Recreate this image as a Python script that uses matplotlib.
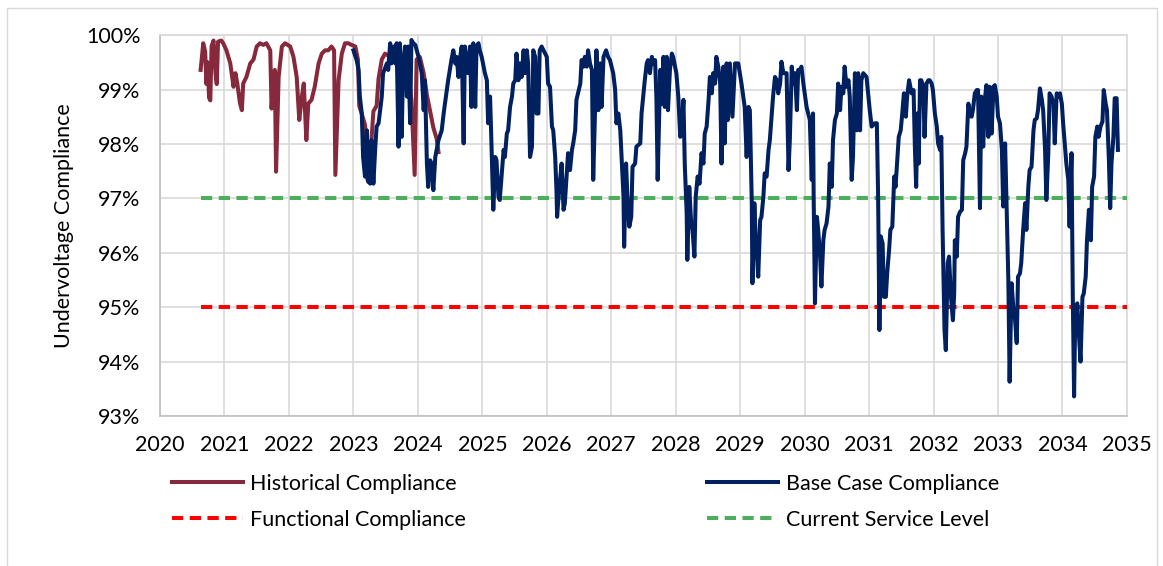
import matplotlib
matplotlib.use("Agg")
import matplotlib.pyplot as plt
from matplotlib.patches import Rectangle
from matplotlib.ticker import FuncFormatter

plt.rcParams['font.family'] = ['Lato', 'DejaVu Sans']

# historical weekly compliance (decimal year, %)
hist_t = [2020.63, 2020.65, 2020.67, 2020.70, 2020.72, 2020.74, 2020.76, 2020.78, 2020.80, 2020.83,
          2020.86, 2020.88, 2020.90, 2020.95, 2020.98, 2021.03, 2021.09, 2021.14, 2021.17, 2021.20,
          2021.24, 2021.27, 2021.29, 2021.34, 2021.40, 2021.45, 2021.50, 2021.55, 2021.60, 2021.65,
          2021.71, 2021.73, 2021.76, 2021.78, 2021.80, 2021.84, 2021.89, 2021.94, 2022.02, 2022.07,
          2022.12, 2022.16, 2022.20, 2022.23, 2022.27, 2022.30, 2022.35, 2022.40, 2022.46, 2022.51,
          2022.56, 2022.61, 2022.66, 2022.70, 2022.72, 2022.77, 2022.82, 2022.87, 2022.92, 2022.97,
          2023.03, 2023.07, 2023.09, 2023.13, 2023.18, 2023.21, 2023.23, 2023.27, 2023.31, 2023.36,
          2023.39, 2023.44, 2023.49, 2023.57, 2023.65, 2023.72, 2023.80, 2023.85, 2023.90, 2023.95,
          2023.98, 2024.03, 2024.09, 2024.14, 2024.19, 2024.24, 2024.29, 2024.32]
hist_v = [99.36, 99.60, 99.85, 99.70, 99.10, 99.50, 98.85, 98.80, 99.80, 99.90,
          99.30, 99.10, 99.88, 99.90, 99.85, 99.72, 99.48, 99.05, 99.30, 99.10,
          98.75, 98.62, 99.11, 99.23, 99.48, 99.55, 99.79, 99.85, 99.82, 99.85,
          99.72, 98.65, 99.17, 99.36, 97.49, 99.23, 99.79, 99.85, 99.79, 99.60,
          99.23, 98.44, 98.87, 99.11, 98.07, 98.74, 98.81, 99.05, 99.48, 99.66,
          99.72, 99.72, 99.79, 99.72, 97.43, 99.17, 99.66, 99.85, 99.85, 99.82,
          99.79, 99.55, 98.70, 98.55, 98.35, 97.90, 97.30, 97.90, 98.60, 98.70,
          99.20, 99.55, 99.66, 99.60, 99.55, 99.50, 99.60, 99.40, 98.80, 97.43,
          99.55, 99.60, 99.30, 98.90, 98.60, 98.30, 98.10, 97.85]

# base case forecast compliance (decimal year, %)
base_t = [2023.00, 2023.05, 2023.08, 2023.10, 2023.13, 2023.15, 2023.18, 2023.21, 2023.22, 2023.26,
          2023.28, 2023.31, 2023.34, 2023.36, 2023.39, 2023.44, 2023.46, 2023.52, 2023.54, 2023.57,
          2023.59, 2023.62, 2023.65, 2023.67, 2023.70, 2023.72, 2023.75, 2023.77, 2023.80, 2023.83,
          2023.85, 2023.88, 2023.90, 2023.93, 2023.96, 2024.01, 2024.06, 2024.09, 2024.11, 2024.14,
          2024.16, 2024.19, 2024.21, 2024.24, 2024.27, 2024.32, 2024.37, 2024.40, 2024.42, 2024.47,
          2024.52, 2024.55, 2024.58, 2024.60, 2024.63, 2024.65, 2024.68, 2024.71, 2024.73, 2024.78,
          2024.81, 2024.83, 2024.86, 2024.89, 2024.91, 2024.94, 2024.96, 2024.99, 2025.04, 2025.07,
          2025.09, 2025.12, 2025.14, 2025.17, 2025.20, 2025.22, 2025.25, 2025.27, 2025.33, 2025.35,
          2025.38, 2025.40, 2025.43, 2025.46, 2025.48, 2025.51, 2025.53, 2025.56, 2025.58, 2025.61,
          2025.64, 2025.66, 2025.69, 2025.71, 2025.74, 2025.77, 2025.79, 2025.82, 2025.84, 2025.87,
          2025.89, 2025.92, 2025.95, 2026.00, 2026.02, 2026.05, 2026.08, 2026.10, 2026.13, 2026.15,
          2026.16, 2026.19, 2026.23, 2026.26, 2026.28, 2026.31, 2026.33, 2026.36, 2026.39, 2026.41,
          2026.44, 2026.46, 2026.52, 2026.54, 2026.57, 2026.59, 2026.62, 2026.64, 2026.67, 2026.70,
          2026.72, 2026.75, 2026.77, 2026.80, 2026.83, 2026.85, 2026.88, 2026.92, 2026.95, 2026.98,
          2027.03, 2027.06, 2027.08, 2027.11, 2027.14, 2027.16, 2027.19, 2027.20, 2027.23, 2027.25,
          2027.28, 2027.31, 2027.33, 2027.37, 2027.39, 2027.45, 2027.47, 2027.50, 2027.52, 2027.55,
          2027.57, 2027.60, 2027.63, 2027.65, 2027.68, 2027.70, 2027.72, 2027.76, 2027.78, 2027.81,
          2027.83, 2027.86, 2027.88, 2027.91, 2027.94, 2027.96, 2027.99, 2028.01, 2028.04, 2028.07,
          2028.09, 2028.12, 2028.14, 2028.17, 2028.18, 2028.21, 2028.24, 2028.26, 2028.29, 2028.31,
          2028.34, 2028.37, 2028.40, 2028.43, 2028.45, 2028.48, 2028.51, 2028.53, 2028.56, 2028.58,
          2028.61, 2028.63, 2028.66, 2028.69, 2028.71, 2028.74, 2028.76, 2028.79, 2028.81, 2028.84,
          2028.88, 2028.92, 2028.97, 2029.02, 2029.07, 2029.10, 2029.13, 2029.15, 2029.18, 2029.19,
          2029.22, 2029.24, 2029.28, 2029.31, 2029.33, 2029.36, 2029.38, 2029.41, 2029.44, 2029.46,
          2029.49, 2029.51, 2029.54, 2029.57, 2029.59, 2029.62, 2029.64, 2029.67, 2029.70, 2029.72,
          2029.75, 2029.77, 2029.80, 2029.82, 2029.85, 2029.88, 2029.90, 2029.93, 2029.95, 2029.98,
          2030.03, 2030.08, 2030.11, 2030.13, 2030.14, 2030.16, 2030.19, 2030.21, 2030.24, 2030.26,
          2030.29, 2030.31, 2030.34, 2030.37, 2030.39, 2030.42, 2030.44, 2030.47, 2030.50, 2030.52,
          2030.55, 2030.57, 2030.60, 2030.62, 2030.65, 2030.68, 2030.70, 2030.73, 2030.75, 2030.78,
          2030.81, 2030.83, 2030.86, 2030.88, 2030.91, 2030.96, 2030.99, 2031.01, 2031.04, 2031.09,
          2031.12, 2031.14, 2031.16, 2031.18, 2031.21, 2031.23, 2031.26, 2031.28, 2031.31, 2031.33,
          2031.36, 2031.39, 2031.41, 2031.44, 2031.46, 2031.49, 2031.51, 2031.54, 2031.57, 2031.59,
          2031.62, 2031.63, 2031.66, 2031.69, 2031.71, 2031.73, 2031.75, 2031.77, 2031.79, 2031.81,
          2031.84, 2031.86, 2031.89, 2031.92, 2031.94, 2031.97, 2031.99, 2032.02, 2032.05, 2032.07,
          2032.10, 2032.12, 2032.14, 2032.17, 2032.19, 2032.22, 2032.24, 2032.27, 2032.30, 2032.32,
          2032.33, 2032.36, 2032.38, 2032.41, 2032.44, 2032.46, 2032.49, 2032.51, 2032.54, 2032.56,
          2032.59, 2032.61, 2032.64, 2032.67, 2032.69, 2032.72, 2032.74, 2032.77, 2032.80, 2032.82,
          2032.85, 2032.87, 2032.90, 2032.93, 2032.95, 2032.98, 2033.00, 2033.03, 2033.06, 2033.08,
          2033.11, 2033.13, 2033.16, 2033.18, 2033.21, 2033.24, 2033.26, 2033.29, 2033.31, 2033.34,
          2033.36, 2033.39, 2033.42, 2033.44, 2033.47, 2033.49, 2033.52, 2033.55, 2033.57, 2033.60,
          2033.62, 2033.65, 2033.68, 2033.70, 2033.73, 2033.75, 2033.78, 2033.80, 2033.83, 2033.86,
          2033.88, 2033.91, 2033.93, 2033.96, 2033.99, 2034.01, 2034.04, 2034.06, 2034.09, 2034.11,
          2034.14, 2034.16, 2034.18, 2034.20, 2034.23, 2034.25, 2034.28, 2034.31, 2034.33, 2034.36,
          2034.38, 2034.41, 2034.44, 2034.46, 2034.49, 2034.51, 2034.54, 2034.56, 2034.59, 2034.62,
          2034.64, 2034.67, 2034.69, 2034.72, 2034.74, 2034.76, 2034.79, 2034.81, 2034.84, 2034.86]
base_v = [99.72, 99.54, 99.36, 98.87, 98.56, 97.76, 97.40, 98.25, 97.34, 97.27,
          98.07, 97.27, 97.95, 98.32, 98.38, 98.87, 99.30, 99.48, 99.36, 99.85,
          99.48, 99.79, 99.48, 99.85, 97.95, 99.85, 98.13, 99.48, 99.79, 98.87,
          99.79, 98.38, 99.91, 99.85, 99.82, 99.60, 99.30, 98.62, 99.17, 97.64,
          97.21, 97.70, 97.64, 97.15, 97.76, 98.07, 98.25, 98.56, 98.74, 99.17,
          99.54, 99.72, 99.48, 99.60, 99.23, 99.54, 99.79, 98.01, 99.79, 99.30,
          99.79, 98.68, 99.85, 98.68, 99.79, 99.85, 99.72, 99.60, 99.30, 99.17,
          98.38, 98.87, 98.07, 96.79, 97.76, 97.70, 97.03, 96.97, 97.89, 97.76,
          98.19, 98.25, 98.68, 98.87, 99.11, 99.17, 99.66, 99.17, 99.48, 99.23,
          99.72, 99.30, 99.72, 99.48, 97.76, 97.95, 99.72, 99.60, 98.56, 98.56,
          99.72, 99.79, 99.72, 99.60, 99.11, 99.05, 98.32, 98.25, 97.76, 97.15,
          96.66, 97.15, 97.64, 96.79, 96.91, 97.46, 97.83, 97.52, 97.89, 98.01,
          98.25, 98.81, 99.11, 99.54, 99.42, 99.60, 99.42, 99.72, 99.48, 99.36,
          97.34, 98.68, 99.72, 98.62, 99.48, 98.68, 99.60, 99.72, 99.60, 99.54,
          99.30, 99.00, 98.38, 98.56, 98.25, 97.76, 97.03, 96.11, 97.64, 97.03,
          96.48, 96.66, 97.58, 97.64, 97.95, 98.01, 98.56, 98.93, 99.17, 99.48,
          99.54, 99.30, 99.60, 99.48, 99.54, 98.87, 97.34, 99.36, 98.74, 99.60,
          98.68, 99.60, 98.62, 99.36, 99.66, 99.60, 99.42, 99.30, 98.87, 98.13,
          98.19, 98.81, 97.64, 96.72, 95.87, 97.21, 96.54, 96.42, 95.93, 97.03,
          97.40, 97.27, 97.83, 97.64, 98.19, 98.32, 98.81, 99.23, 98.93, 99.30,
          99.11, 99.60, 99.42, 99.11, 97.64, 99.42, 98.01, 99.48, 98.44, 99.48,
          98.50, 99.48, 99.48, 99.11, 98.68, 97.76, 98.68, 98.62, 96.91, 95.44,
          96.91, 96.30, 95.56, 96.60, 96.66, 97.03, 97.46, 97.40, 97.89, 98.07,
          98.56, 98.87, 99.23, 99.17, 98.93, 99.11, 99.51, 99.30, 99.30, 99.30,
          97.52, 98.07, 99.42, 99.11, 99.30, 98.62, 99.36, 99.36, 99.42, 99.11,
          98.68, 98.44, 97.34, 98.56, 97.03, 95.07, 96.66, 96.42, 95.93, 95.38,
          96.23, 96.42, 96.54, 96.85, 97.64, 97.21, 98.07, 98.44, 98.56, 99.11,
          98.62, 99.05, 98.93, 99.42, 99.05, 99.17, 98.87, 97.34, 97.76, 99.30,
          98.25, 99.30, 98.25, 99.17, 99.30, 99.23, 98.87, 98.62, 98.32, 98.38,
          98.38, 97.03, 94.58, 96.30, 96.17, 95.19, 95.19, 95.62, 96.05, 96.42,
          96.48, 97.40, 97.21, 97.76, 98.13, 98.25, 98.50, 98.93, 98.50, 98.87,
          99.17, 99.11, 98.93, 98.99, 97.95, 97.21, 98.56, 97.64, 99.17, 99.17,
          99.05, 98.13, 99.11, 99.17, 99.17, 99.11, 98.99, 98.56, 98.32, 98.01,
          97.89, 98.13, 96.42, 94.58, 94.21, 95.81, 95.93, 95.19, 94.76, 95.25,
          96.23, 95.93, 96.66, 96.75, 96.79, 97.70, 97.83, 97.95, 98.74, 98.56,
          98.50, 98.62, 98.93, 98.99, 98.99, 96.82, 98.87, 97.95, 98.87, 99.08,
          98.13, 99.05, 98.19, 99.05, 99.08, 98.87, 98.50, 98.38, 97.89, 96.85,
          98.01, 97.03, 95.50, 93.63, 95.44, 94.95, 94.83, 94.34, 95.56, 95.62,
          95.81, 96.42, 96.91, 96.42, 97.21, 97.52, 97.58, 98.25, 98.44, 98.47,
          98.62, 99.02, 98.81, 98.62, 97.89, 96.97, 97.83, 98.93, 98.87, 98.74,
          98.01, 98.93, 98.87, 98.93, 98.74, 98.38, 97.95, 97.64, 97.34, 96.48,
          97.83, 95.19, 93.36, 95.01, 95.07, 94.58, 94.00, 95.19, 95.25, 95.56,
          96.23, 96.79, 96.23, 97.21, 97.40, 98.13, 98.32, 98.13, 98.32, 98.41,
          98.99, 98.74, 98.62, 97.70, 96.82, 97.64, 98.13, 98.84, 98.84, 97.89]

level_t = [2020.63, 2035.0]
functional_level = 95.0
service_level = 97.0

years = list(range(2020, 2036))
pct_ticks = [93, 94, 95, 96, 97, 98, 99, 100]

fig = plt.figure(figsize=(11.63, 5.66), dpi=100)
fig.patches.append(Rectangle((0.006, -0.01), 0.989, 0.996, transform=fig.transFigure,
                             fill=False, edgecolor='#D9D9D9', linewidth=1.0))
ax = fig.add_axes([0.1376, 0.265, 0.8314, 0.673])

lw = 2.9
ax.plot(level_t, [functional_level] * 2, color='#FF0000', linewidth=lw,
        dashes=(2.8, 1.6), label='Functional Compliance', zorder=3)
ax.plot(level_t, [service_level] * 2, color='#4CAF5C', linewidth=lw,
        dashes=(2.8, 1.6), label='Current Service Level', zorder=3)
ax.plot(hist_t, hist_v, color='#86293D', linewidth=lw, label='Historical Compliance',
        solid_joinstyle='round', zorder=4)
ax.plot(base_t, base_v, color='#002060', linewidth=lw, label='Base Case Compliance',
        solid_joinstyle='round', zorder=5)

ax.set_xlim(2020, 2035)
ax.set_ylim(93, 100)
ax.set_xticks(years)
ax.set_yticks(pct_ticks)
ax.yaxis.set_major_formatter(FuncFormatter(lambda v, p: '%d%%' % v))
ax.grid(True, color='#D9D9D9', linewidth=1.2)
ax.set_axisbelow(True)
for s in ax.spines.values():
    s.set_color('#D9D9D9')
    s.set_linewidth(1.2)
ax.spines['bottom'].set_color('#BFBFBF')
ax.spines['left'].set_color('#BFBFBF')
ax.tick_params(axis='both', length=0, labelsize=15.5, colors='#000000')
ax.tick_params(axis='x', pad=14)
ax.tick_params(axis='y', pad=14)
ax.set_ylabel('Undervoltage Compliance', fontsize=15.5, labelpad=9)

h, l = ax.get_legend_handles_labels()
order = [2, 0, 3, 1]
fig.legend([h[i] for i in order], [l[i] for i in order], ncol=2, frameon=False,
           loc='upper left', bbox_to_anchor=(0.131, 0.197), fontsize=15.5,
           handlelength=3.3, handletextpad=0.35, columnspacing=11.2, labelspacing=0.75)

fig.savefig('out.png', dpi=100)
